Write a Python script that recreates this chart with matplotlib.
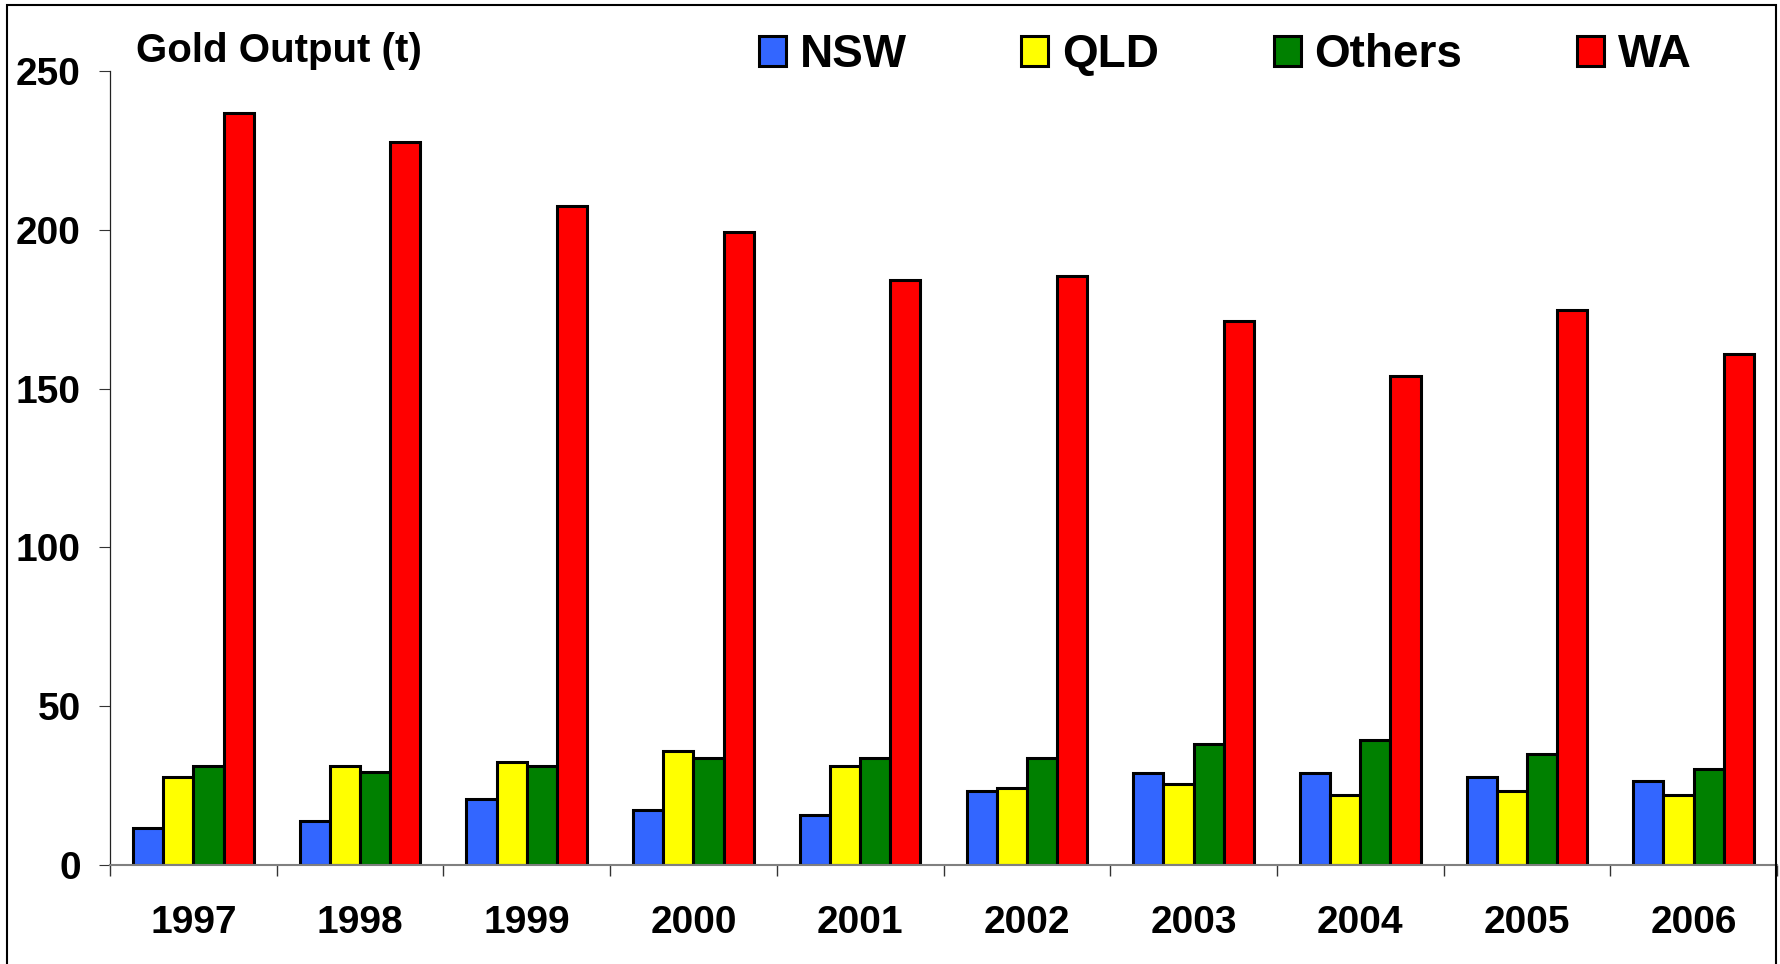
import matplotlib
matplotlib.use("Agg")
import matplotlib.pyplot as plt
from matplotlib.patches import Rectangle
import numpy as np

years = ["1997", "1998", "1999", "2000", "2001", "2002", "2003", "2004", "2005", "2006"]
series_names = ["NSW", "QLD", "Others", "WA"]
nsw = [11.5, 13.7, 20.8, 17.3, 15.9, 23.2, 29.1, 29.1, 27.7, 26.5]
qld = [27.7, 31.3, 32.3, 35.9, 31.3, 24.2, 25.6, 21.9, 23.2, 21.9]
others = [31.3, 29.2, 31.3, 33.6, 33.6, 33.6, 38.2, 39.5, 34.8, 30.1]
wa = [236.8, 227.5, 207.6, 199.4, 184.3, 185.5, 171.3, 153.9, 174.9, 160.8]
colors = ["#3366FF", "#FFFF00", "#008000", "#FF0000"]
yticks = [0, 50, 100, 150, 200, 250]
title = "Gold Output (t)"

plt.rcParams['font.family'] = ['Liberation Sans', 'DejaVu Sans']
plt.rcParams['font.weight'] = 'bold'

W, H = 1781, 964
fig = plt.figure(figsize=(W / 100, H / 100), dpi=100)
ax = fig.add_axes([110 / W, (H - 865) / H, 1667 / W, 794 / H])

x = np.arange(len(years))
bw = 0.181
data = [nsw, qld, others, wa]
for k, (name, vals, c) in enumerate(zip(series_names, data, colors)):
    ax.bar(x + (k - 1.5) * bw, vals, width=bw, color=c, edgecolor="black",
           linewidth=2.2, label=name, zorder=3)

ax.set_xlim(-0.5, len(years) - 0.5)
ax.set_ylim(0, 250)
ax.set_yticks(yticks)
ax.set_yticklabels([str(v) for v in yticks], fontsize=28, fontweight='bold')
ax.set_xticks(x)
ax.set_xticklabels(years, fontsize=28, fontweight='bold')
ax.set_xticks(np.arange(-0.5, len(years), 1.0), minor=True)
ax.tick_params(axis='x', which='major', length=0, pad=29)
ax.tick_params(axis='x', which='minor', length=8, width=1.0, color='#333333', direction='out')
ax.tick_params(axis='y', which='major', length=8, width=0.8, color='#333333', pad=13, direction='out')

for s in ['top', 'right']:
    ax.spines[s].set_visible(False)
ax.spines['left'].set_color('#222222')
ax.spines['left'].set_linewidth(0.9)
ax.spines['bottom'].set_color('#808080')
ax.spines['bottom'].set_linewidth(1.5)
ax.spines['bottom'].set_zorder(4)

fig.text(136 / W, 1 - 62 / H, title, fontsize=29, fontweight='bold',
         ha='left', va='baseline')

leg = fig.legend(loc='center left', bbox_to_anchor=(759 / W, 1 - 55 / H), ncol=4,
                 frameon=False, borderpad=0, borderaxespad=0,
                 handlelength=0.59, handleheight=0.62, handletextpad=0.3,
                 columnspacing=2.5, prop={'weight': 'bold', 'size': 33})

fig.patches.append(Rectangle((7 / W, -0.05), 1769 / W, 1.05 - 5 / H,
                             transform=fig.transFigure, fill=False,
                             edgecolor='black', linewidth=1.5))

fig.savefig("out.png", dpi=100)
